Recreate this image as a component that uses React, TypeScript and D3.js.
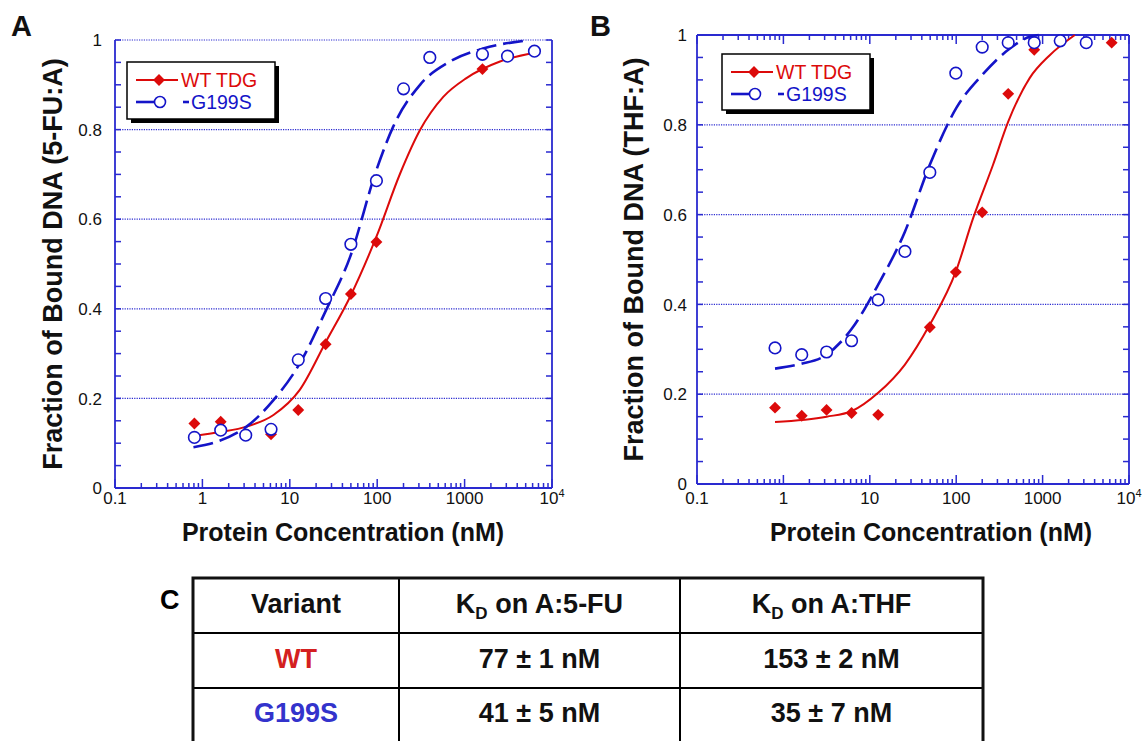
import { useEffect, useRef } from 'react';
import * as d3 from 'd3';

// Panel A (5-FU:A) measured points
const concWtA = [0.81, 1.62, 6.1, 12.5, 25.7, 50, 98, 1600];
const fracWtA = [0.144, 0.148, 0.12, 0.174, 0.321, 0.433, 0.549, 0.935];
const concMutA = [0.81, 1.62, 3.13, 6.1, 12.5, 25.7, 50, 98, 200, 400, 1600, 3100, 6300];
const fracMutA = [0.113, 0.129, 0.118, 0.131, 0.286, 0.423, 0.544, 0.686, 0.891, 0.961, 0.968, 0.964, 0.975];

// Panel A fitted curves
const fitWtAx = [0.8, 1.6, 3.2, 6.5, 13, 26, 49, 98, 183, 309, 570, 1050, 2540, 6680];
const fitWtAy = [0.116, 0.125, 0.137, 0.163, 0.219, 0.327, 0.427, 0.561, 0.702, 0.799, 0.873, 0.915, 0.952, 0.972];
const fitMutAx = [0.79, 1.46, 3.2, 6.5, 13, 26, 49, 98, 152, 309, 680, 1630, 4700];
const fitMutAy = [0.091, 0.103, 0.137, 0.196, 0.278, 0.397, 0.516, 0.71, 0.806, 0.9, 0.952, 0.981, 0.998];

// Panel B (THF:A) measured points
const concWtB = [0.8, 1.63, 3.16, 6.15, 12.5, 49.5, 99, 200, 400, 800, 6300];
const fracWtB = [0.17, 0.152, 0.165, 0.158, 0.154, 0.349, 0.472, 0.605, 0.869, 0.967, 0.983];
const concMutB = [0.8, 1.63, 3.16, 6.15, 12.5, 25.5, 49.5, 99, 200, 400, 800, 1600, 3200];
const fracMutB = [0.303, 0.288, 0.294, 0.319, 0.41, 0.518, 0.694, 0.915, 0.973, 0.983, 0.983, 0.987, 0.983];

// Panel B fitted curves
const fitWtBx = [0.8, 3.16, 6.15, 12.5, 25.5, 49.5, 99, 157, 267, 400, 708, 1210, 2360];
const fitWtBy = [0.138, 0.15, 0.162, 0.203, 0.266, 0.355, 0.473, 0.592, 0.711, 0.807, 0.904, 0.955, 1.0];
const fitMutBx = [0.8, 1.55, 3.16, 6.15, 12.5, 25.5, 49.5, 100, 200, 400, 708, 900];
const fitMutBy = [0.257, 0.267, 0.288, 0.345, 0.444, 0.562, 0.711, 0.837, 0.911, 0.967, 0.996, 1.0];

// axes
const yTicks = [0, 0.2, 0.4, 0.6, 0.8, 1];
const xDecades = [0.1, 1, 10, 100, 1000, 10000];
const xTickLabels = ['0.1', '1', '10', '100', '1000', '10^4'];
const legendLabels = ['WT TDG', 'G199S'];

// table C
const tableHeaders = ['Variant', 'on A:5-FU', 'on A:THF'];
const variants = ['WT', 'G199S'];
const kdFU = ['77 ± 1 nM', '41 ± 5 nM'];
const kdTHF = ['153 ± 2 nM', '35 ± 7 nM'];

const RED = '#dc0a0a';
const BLUE = '#1414c8';
const AXIS = '#2a2ad0';
const FONT = 'Liberation Sans, Arial, Helvetica, sans-serif';

function drawPanel(svg, cfg) {
  const { left, right, top, bottom } = cfg;
  const x = d3.scaleLog().domain([0.1, 10000]).range([left, right]);
  const y = d3.scaleLinear().domain([0, 1]).range([bottom, top]);
  const g = svg.append('g');

  // dotted grid
  g.selectAll('.grid')
    .data(yTicks.filter((d) => d > 0 && (d < 1 || !cfg.solidTop)))
    .enter()
    .append('line')
    .attr('x1', left)
    .attr('x2', right)
    .attr('y1', (d) => y(d))
    .attr('y2', (d) => y(d))
    .attr('stroke', AXIS)
    .attr('stroke-width', 1.2)
    .attr('stroke-dasharray', '1.2,1.2');

  // frame
  const frame = [
    [left, bottom, right, bottom],
    [left, top, left, bottom],
    [right, top, right, bottom],
  ];
  if (cfg.solidTop) frame.push([left, top, right, top]);
  g.selectAll('.frame')
    .data(frame)
    .enter()
    .append('line')
    .attr('x1', (d) => d[0])
    .attr('y1', (d) => d[1])
    .attr('x2', (d) => d[2])
    .attr('y2', (d) => d[3])
    .attr('stroke', AXIS)
    .attr('stroke-width', 1.8);

  // y minor ticks every 0.05, both sides
  const yMinor = d3.range(0, 1.0001, 0.05);
  [left, right].forEach((xx, i) => {
    g.selectAll(null)
      .data(yMinor)
      .enter()
      .append('line')
      .attr('x1', xx)
      .attr('x2', xx + (i === 0 ? 6 : -6))
      .attr('y1', (d) => y(d))
      .attr('y2', (d) => y(d))
      .attr('stroke', AXIS)
      .attr('stroke-width', 1.5);
  });

  // x log ticks
  const xMinor = [];
  xDecades.slice(0, -1).forEach((dec) => {
    for (let k = 1; k <= 9; k++) xMinor.push(dec * k);
  });
  xMinor.push(10000);
  const edges = cfg.solidTop ? [[bottom, -1], [top, 1]] : [[bottom, -1]];
  edges.forEach(([yy, dir]) => {
    g.selectAll(null)
      .data(xMinor)
      .enter()
      .append('line')
      .attr('x1', (d) => x(d))
      .attr('x2', (d) => x(d))
      .attr('y1', yy)
      .attr('y2', (d) => yy + dir * (xDecades.some((v) => Math.abs(v - d) < 1e-9) ? 9 : 5))
      .attr('stroke', AXIS)
      .attr('stroke-width', 1.5);
  });

  // y tick labels
  g.selectAll(null)
    .data(yTicks)
    .enter()
    .append('text')
    .attr('x', left - cfg.yLabelGap)
    .attr('y', (d) => y(d))
    .attr('dy', '0.36em')
    .attr('text-anchor', 'end')
    .style('font-family', FONT)
    .style('font-size', '17px')
    .style('fill', '#111')
    .text((d) => (d === 0 || d === 1 ? String(d) : d.toFixed(1)));

  // x tick labels
  xDecades.forEach((d, i) => {
    const t = g
      .append('text')
      .attr('x', x(d))
      .attr('y', cfg.xLabelY)
      .attr('text-anchor', 'middle')
      .style('font-family', FONT)
      .style('font-size', '17px')
      .style('fill', '#111');
    const lab = xTickLabels[i];
    if (lab.includes('^')) {
      const [base, exp] = lab.split('^');
      t.append('tspan').text(base);
      t.append('tspan').attr('dy', -7).style('font-size', '11px').text(exp);
    } else {
      t.text(lab);
    }
  });

  // axis titles
  g.append('text')
    .attr('transform', `translate(${cfg.yTitleX},${(top + bottom) / 2}) rotate(-90)`)
    .attr('text-anchor', 'middle')
    .attr('dy', '0.35em')
    .style('font-family', FONT)
    .style('font-size', '27px')
    .style('font-weight', 'bold')
    .style('fill', '#111')
    .text(cfg.yTitle);
  g.append('text')
    .attr('x', cfg.xTitleX)
    .attr('y', cfg.xTitleY)
    .attr('text-anchor', 'middle')
    .style('font-family', FONT)
    .style('font-size', '25px')
    .style('font-weight', 'bold')
    .style('fill', '#111')
    .text('Protein Concentration (nM)');

  // panel letter
  g.append('text')
    .attr('x', cfg.letterX)
    .attr('y', 36)
    .style('font-family', FONT)
    .style('font-size', '29px')
    .style('font-weight', 'bold')
    .style('fill', '#111')
    .text(cfg.letter);

  // fits
  const line = d3
    .line()
    .x((d) => x(d[0]))
    .y((d) => y(d[1]))
    .curve(d3.curveMonotoneX);
  g.append('path')
    .attr('d', line(d3.zip(cfg.fitWtX, cfg.fitWtY)))
    .attr('fill', 'none')
    .attr('stroke', RED)
    .attr('stroke-width', 2);
  g.append('path')
    .attr('d', line(d3.zip(cfg.fitMutX, cfg.fitMutY)))
    .attr('fill', 'none')
    .attr('stroke', BLUE)
    .attr('stroke-width', 2.6)
    .attr('stroke-dasharray', '20,7');

  // WT diamonds
  const dia = d3.symbol().type(d3.symbolDiamond2).size(90);
  g.selectAll(null)
    .data(d3.zip(cfg.wtX, cfg.wtY))
    .enter()
    .append('path')
    .attr('d', dia)
    .attr('transform', (d) => `translate(${x(d[0])},${y(d[1])})`)
    .attr('fill', RED);
  g.selectAll(null)
    .data(d3.zip(cfg.mutX, cfg.mutY))
    .enter()
    .append('circle')
    .attr('cx', (d) => x(d[0]))
    .attr('cy', (d) => y(d[1]))
    .attr('r', 5.8)
    .attr('fill', 'white')
    .attr('stroke', BLUE)
    .attr('stroke-width', 1.6);

  // legend
  const lx = cfg.legendX;
  const ly = cfg.legendY;
  const lg = g.append('g');
  lg.append('rect').attr('x', lx + 4).attr('y', ly + 4).attr('width', 148).attr('height', cfg.legendH).attr('fill', '#000');
  lg.append('rect')
    .attr('x', lx)
    .attr('y', ly)
    .attr('width', 148)
    .attr('height', cfg.legendH)
    .attr('fill', 'white')
    .attr('stroke', '#000')
    .attr('stroke-width', 1.5);
  lg.append('line').attr('x1', lx + 9).attr('x2', lx + 51).attr('y1', ly + 18).attr('y2', ly + 18).attr('stroke', RED).attr('stroke-width', 2);
  lg.append('path').attr('d', dia).attr('transform', `translate(${lx + 32},${ly + 18})`).attr('fill', RED);
  lg.append('text')
    .attr('x', lx + 54)
    .attr('y', ly + 25)
    .style('font-family', FONT)
    .style('font-size', '19.5px')
    .style('fill', RED)
    .text(legendLabels[0]);
  lg.append('line').attr('x1', lx + 9).attr('x2', lx + 27).attr('y1', ly + 40).attr('y2', ly + 40).attr('stroke', BLUE).attr('stroke-width', 2.6);
  lg.append('circle').attr('cx', lx + 33).attr('cy', ly + 40).attr('r', 5.5).attr('fill', 'white').attr('stroke', BLUE).attr('stroke-width', 1.6);
  lg.append('line').attr('x1', lx + 56).attr('x2', lx + 62).attr('y1', ly + 40).attr('y2', ly + 40).attr('stroke', BLUE).attr('stroke-width', 2.6);
  lg.append('text')
    .attr('x', lx + 64)
    .attr('y', ly + 47)
    .style('font-family', FONT)
    .style('font-size', '19.5px')
    .style('fill', BLUE)
    .text(legendLabels[1]);
}

function drawTable(svg) {
  const colX = [193, 399, 680, 983];
  const rowY = [578, 633, 688, 744];
  const g = svg.append('g');
  const colC = d3.range(3).map((i) => (colX[i] + colX[i + 1]) / 2);

  g.append('text')
    .attr('x', 160)
    .attr('y', 609)
    .style('font-family', FONT)
    .style('font-size', '27px')
    .style('font-weight', 'bold')
    .text('C');

  // inner lines
  colX.slice(1, -1).forEach((cx) => {
    g.append('line').attr('x1', cx).attr('x2', cx).attr('y1', rowY[0]).attr('y2', rowY[3]).attr('stroke', '#000').attr('stroke-width', 2);
  });
  rowY.slice(1, -1).forEach((ry) => {
    g.append('line').attr('x1', colX[0]).attr('x2', colX[3]).attr('y1', ry).attr('y2', ry).attr('stroke', '#000').attr('stroke-width', 2.2);
  });
  g.append('rect')
    .attr('x', colX[0])
    .attr('y', rowY[0])
    .attr('width', colX[3] - colX[0])
    .attr('height', rowY[3] - rowY[0])
    .attr('fill', 'none')
    .attr('stroke', '#111')
    .attr('stroke-width', 3);

  const cell = (txt, cx, by, color) =>
    g
      .append('text')
      .attr('x', cx)
      .attr('y', by)
      .attr('text-anchor', 'middle')
      .style('font-family', FONT)
      .style('font-size', '27px')
      .style('font-weight', 'bold')
      .style('fill', color)
      .text(txt);

  cell(tableHeaders[0], colC[0], 613, '#111');
  [1, 2].forEach((i) => {
    const t = g
      .append('text')
      .attr('x', colC[i])
      .attr('y', 613)
      .attr('text-anchor', 'middle')
      .style('font-family', FONT)
      .style('font-size', '27px')
      .style('font-weight', 'bold')
      .style('fill', '#111');
    t.append('tspan').text('K');
    t.append('tspan').attr('dy', 6).style('font-size', '17px').text('D');
    t.append('tspan').attr('dy', -6).text(' ' + tableHeaders[i]);
  });
  const colors = ['#d42020', '#3333cc'];
  variants.forEach((v, i) => {
    const by = 668 + i * 54;
    cell(v, colC[0], by, colors[i]);
    cell(kdFU[i], colC[1], by, '#111');
    cell(kdTHF[i], colC[2], by, '#111');
  });
}

function App() {
  const svgRef = useRef(null);

  useEffect(() => {
    const svg = d3.select(svgRef.current);
    svg.selectAll('*').remove();

    drawPanel(svg, {
      left: 115, right: 552, top: 40, bottom: 488,
      solidTop: false,
      letter: 'A', letterX: 11,
      yTitle: 'Fraction of Bound DNA (5-FU:A)', yTitleX: 53,
      xTitleX: 343, xTitleY: 541, xLabelY: 504, yLabelGap: 13,
      legendX: 127, legendY: 62, legendH: 57,
      wtX: concWtA, wtY: fracWtA, mutX: concMutA, mutY: fracMutA,
      fitWtX: fitWtAx, fitWtY: fitWtAy, fitMutX: fitMutAx, fitMutY: fitMutAy,
    });
    drawPanel(svg, {
      left: 697, right: 1129, top: 35, bottom: 484,
      solidTop: true,
      letter: 'B', letterX: 590,
      yTitle: 'Fraction of Bound DNA (THF:A)', yTitleX: 634,
      xTitleX: 931, xTitleY: 541, xLabelY: 504, yLabelGap: 10,
      legendX: 722, legendY: 54, legendH: 56,
      wtX: concWtB, wtY: fracWtB, mutX: concMutB, mutY: fracMutB,
      fitWtX: fitWtBx, fitWtY: fitWtBy, fitMutX: fitMutBx, fitMutY: fitMutBy,
    });
    drawTable(svg);
  }, []);

  return (
    <svg
      ref={svgRef}
      width={1143}
      height={741}
      style={{ position: 'absolute', left: 0, top: 0, background: 'white' }}
    />
  );
}

export default App;
